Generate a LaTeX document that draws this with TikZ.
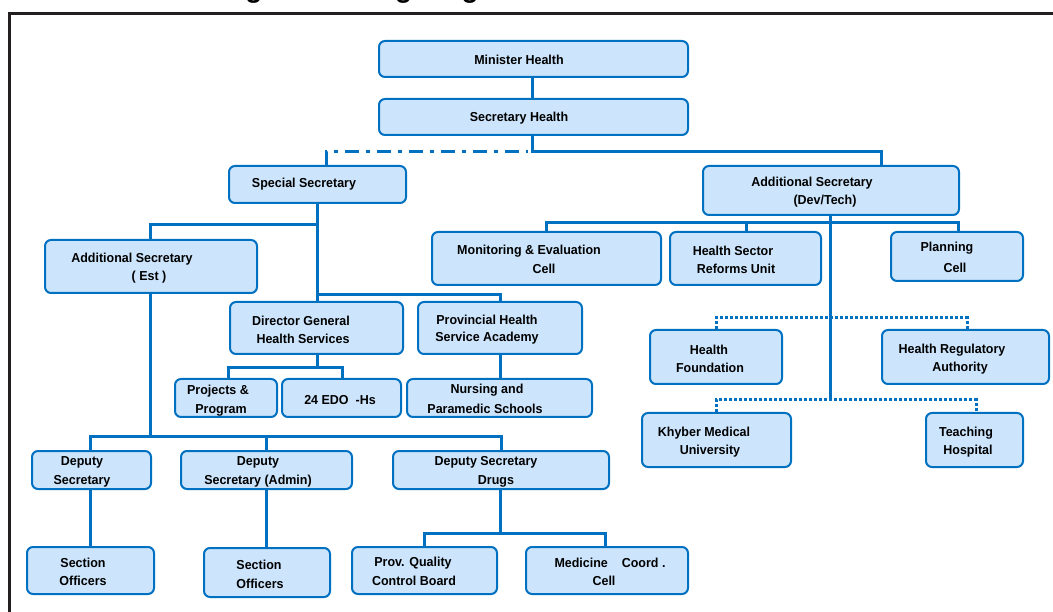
\documentclass[tikz,border=0pt]{standalone}
\usepackage{fontspec}
\setmainfont{Liberation Sans}[FakeStretch=0.96]
\newfontfamily\titlefont{Liberation Sans}
\usetikzlibrary{fit}
\definecolor{boxfill}{RGB}{204,229,252}
\definecolor{boxline}{RGB}{0,112,192}
\definecolor{framecol}{RGB}{35,31,32}
\tikzset{
  box/.style={draw=boxline, fill=boxfill, rounded corners=6pt, line width=2pt, inner sep=0pt},
  lbl/.style={font=\bfseries\fontsize{13}{15}\selectfont, inner sep=0pt, text=black},
  conn/.style={draw=boxline, line width=3pt},
  dotline/.style={draw=boxline, line width=3pt, dash pattern=on 3pt off 2pt},
  dashdot/.style={draw=boxline, line width=3pt, dash pattern=on 14pt off 7pt on 4pt off 7pt},
  frameline/.style={draw=framecol, line width=3pt}
}
\begin{document}
\begin{tikzpicture}[x=1pt,y=-1pt]
\useasboundingbox (0,0) rectangle (1053,612);
\begin{scope}
\clip (0,0) rectangle (1053,612);
\node[anchor=base west, inner sep=0pt, font=\titlefont\bfseries\fontsize{27.8}{30}\selectfont] (title) at (154,-2) {Existing Health Organogram};
\end{scope}
\draw[frameline] (9.5,612) -- (9.5,13.5) -- (1053,13.5);
% boxes
\node[box, fit={(379,41) (688,77)}] (ms) {};
\node[box, fit={(379,99) (688,135)}] (sh) {};
\node[box, fit={(229,166) (406,203)}] (ss) {};
\node[box, fit={(703,166) (959,215)}] (asd) {};
\node[box, fit={(45,240) (257,293)}] (ase) {};
\node[box, fit={(432,232) (661,285)}] (me) {};
\node[box, fit={(670,232) (821,285)}] (hsr) {};
\node[box, fit={(891,232) (1023,281)}] (pc) {};
\node[box, fit={(230,302) (403,354)}] (dg) {};
\node[box, fit={(418,302) (582,354)}] (phsa) {};
\node[box, fit={(175,379) (277,417)}] (pp) {};
\node[box, fit={(282,379) (401,417)}] (edo) {};
\node[box, fit={(407,379) (592,417)}] (nps) {};
\node[box, fit={(650,330) (782,384)}] (hf) {};
\node[box, fit={(882,330) (1049,384)}] (hra) {};
\node[box, fit={(642,413) (791,467)}] (kmu) {};
\node[box, fit={(926,413) (1023,467)}] (th) {};
\node[box, fit={(32,451) (151,489)}] (ds) {};
\node[box, fit={(181,451) (352,489)}] (dsa) {};
\node[box, fit={(393,451) (609,489)}] (dsd) {};
\node[box, fit={(27,547) (154,594)}] (so1) {};
\node[box, fit={(204,548) (330,597)}] (so2) {};
\node[box, fit={(352,547) (497,594)}] (pq) {};
\node[box, fit={(526,547) (688,594)}] (mcc) {};
% labels
\node[lbl] (t-ms) at (519,60) {Minister Health};
\node[lbl] (t-sh) at (519,118) {Secretary Health};
\node[lbl] (t-ss) at (304,184) {Special Secretary};
\node[lbl] (t-asd1) at (812,183) {Additional Secretary};
\node[lbl] (t-asd2) at (825,201) {(Dev/Tech)};
\node[lbl] (t-ase1) at (132,259) {Additional Secretary};
\node[lbl] (t-ase2) at (149,277) {( Est )};
\node[lbl] (t-me1) at (529,251) {Monitoring \& Evaluation};
\node[lbl] (t-me2) at (544,269) {Cell};
\node[lbl] (t-hsr1) at (733,251) {Health Sector};
\node[lbl] (t-hsr2) at (736,269) {Reforms Unit};
\node[lbl] (t-pc1) at (947,248) {Planning};
\node[lbl] (t-pc2) at (955,268) {Cell};
\node[lbl] (t-dg1) at (301,321) {Director General};
\node[lbl] (t-dg2) at (303,339) {Health Services};
\node[lbl] (t-ph1) at (487,320) {Provincial Health};
\node[lbl] (t-ph2) at (487,338) {Service Academy};
\node[lbl] (t-pp1) at (218,391) {Projects \&};
\node[lbl] (t-pp2) at (221,410) {Program};
\node[lbl] (t-edo) at (340,400) {24 EDO\ \ -Hs};
\node[lbl] (t-np1) at (487,390) {Nursing and};
\node[lbl] (t-np2) at (485,409) {Paramedic Schools};
\node[lbl] (t-hf1) at (709,350) {Health};
\node[lbl] (t-hf2) at (710,368) {Foundation};
\node[lbl] (t-hr1) at (952,350) {Health Regulatory};
\node[lbl] (t-hr2) at (960,368) {Authority};
\node[lbl] (t-km1) at (704,433) {Khyber Medical};
\node[lbl] (t-km2) at (710,451) {University};
\node[lbl] (t-th1) at (966,433) {Teaching};
\node[lbl] (t-th2) at (968,451) {Hospital};
\node[lbl] (t-ds1) at (82,462) {Deputy};
\node[lbl] (t-ds2) at (82,481) {Secretary};
\node[lbl] (t-da1) at (258,462) {Deputy};
\node[lbl] (t-da2) at (258,481) {Secretary (Admin)};
\node[lbl] (t-dd1) at (486,462) {Deputy Secretary};
\node[lbl] (t-dd2) at (496,481) {Drugs};
\node[lbl] (t-so11) at (83,563) {Section};
\node[lbl] (t-so12) at (83,581) {Officers};
\node[lbl] (t-so21) at (259,565) {Section};
\node[lbl] (t-so22) at (260,584) {Officers};
\node[lbl] (t-pq1) at (413,563) {Prov. Quality};
\node[lbl] (t-pq2) at (414,581) {Control Board};
\node[lbl] (t-mc1) at (610,563) {Medicine\ \ \ \ Coord\ .};
\node[lbl] (t-mc2) at (604,581) {Cell};
% junction coordinates
\coordinate (c1) at (532,152);
\coordinate (c2) at (881,152);
\coordinate (c3) at (326,152);
\coordinate (c4) at (317,225);
\coordinate (c5) at (150,225);
\coordinate (c6) at (317,295);
\coordinate (c7) at (500,295);
\coordinate (c8) at (317,368);
\coordinate (c9) at (228,368);
\coordinate (c10) at (342,368);
\coordinate (c11) at (830,223);
\coordinate (c12) at (546,223);
\coordinate (c13) at (958,223);
\coordinate (c14) at (746,223);
\coordinate (c15) at (830,400);
\coordinate (c16) at (716,318);
\coordinate (c17) at (967,318);
\coordinate (c18) at (716,400);
\coordinate (c19) at (976,400);
\coordinate (c20) at (150,437);
\coordinate (c21) at (90,437);
\coordinate (c22) at (501,437);
\coordinate (c23) at (266,437);
\coordinate (c24) at (500,533);
\coordinate (c25) at (424,533);
\coordinate (c26) at (605,533);
% connectors
\draw[conn] (ms.south -| c1) -- (sh.north -| c1);
\draw[conn] (sh.south -| c1) -- (c1) -- (c2) -- (asd.north -| c2);
\draw[dashdot] (ss.north -| c3) -- (c3) -- ([xshift=-4pt]c1);
\draw[conn] (ss.south -| c4) -- (c4) -- (c5) -- (ase.north -| c5);
\draw[conn] (c4) -- (dg.north -| c4);
\draw[conn] (c6) -- (c7) -- (phsa.north -| c7);
\draw[conn] (dg.south -| c8) -- (c8);
\draw[conn] (pp.north -| c9) -- (c9) -- (c10) -- (edo.north -| c10);
\draw[conn] (phsa.south -| c7) -- (nps.north -| c7);
\draw[conn] (asd.south -| c11) -- (c15);
\draw[conn] (me.north -| c12) -- (c12) -- (c13) -- (pc.north -| c13);
\draw[conn] (c14) -- (hsr.north -| c14);
\draw[dotline] (hf.north -| c16) -- (c16) -- (c17) -- (hra.north -| c17);
\draw[dotline] (kmu.north -| c18) -- (c18) -- (c19) -- (th.north -| c19);
\draw[conn] (ase.south -| c20) -- (c20);
\draw[conn] (ds.north -| c21) -- (c21) -- (c22) -- (dsd.north -| c22);
\draw[conn] (c23) -- (dsa.north -| c23);
\draw[conn] (ds.south -| c21) -- (so1.north -| c21);
\draw[conn] (dsa.south -| c23) -- (so2.north -| c23);
\draw[conn] (dsd.south -| c24) -- (c24);
\draw[conn] (pq.north -| c25) -- (c25) -- (c26) -- (mcc.north -| c26);
\end{tikzpicture}
\end{document}
